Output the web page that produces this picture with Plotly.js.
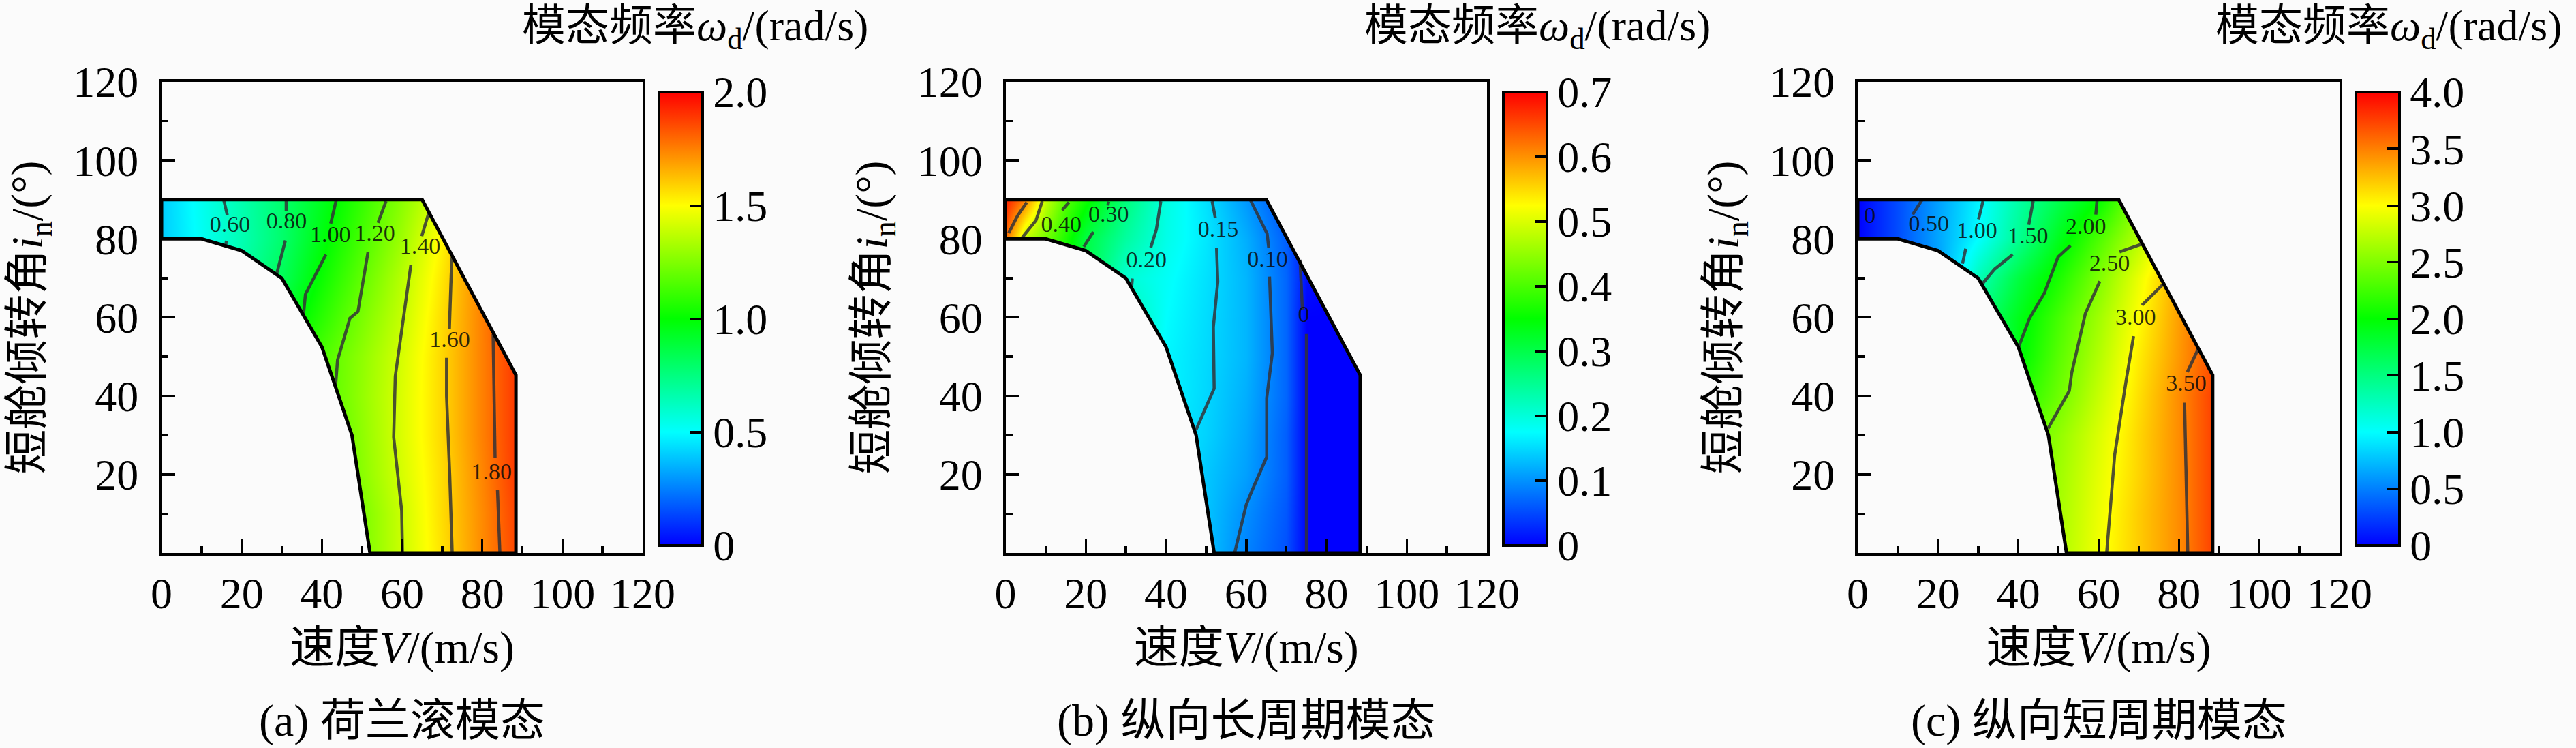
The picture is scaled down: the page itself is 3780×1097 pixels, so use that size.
<!DOCTYPE html>
<html><head><meta charset="utf-8">
<script src="https://cdn.plot.ly/plotly-3.0.1.min.js"></script>
<style>html,body{margin:0;padding:0;background:#fbfbfb}</style></head>
<body><div id="chart" style="width:3780px;height:1097px"></div>
<script>
// ---------- shared axes ----------
const speedTicks = [0,20,40,60,80,100,120];
const speedLabels = ['0','20','40','60','80','100','120'];
const tiltTicks = [20,40,60,80,100,120];
const tiltLabels = ['20','40','60','80','100','120'];
const tiltGrid = [0,10,20,30,40,50,60,70,80,90];
const speedGrid = [0,10,20,30,40,50,60,70,80,90];
const speedGridLong = [0,5,10,15,20,30,40,50,60,70,75,80,90];

// flight envelope boundary
const envelopeV = [0,10,20,30,40,47.5,52,88.4,88.4,65,0,0];
const envelopeI = [80,80,77,70,52.5,30,0,0,45.3,90,90,80];
const lowerMaskV = [0,52,47.5,40,30,20,10,0,0];
const lowerMaskI = [0,0,30,52.5,70,77,80,80,0];
const upperMaskV = [0,65,88.4,88.4,120,120,0,0];
const upperMaskI = [90,90,45.3,0,0,120,120,90];

// ---------- (a) Dutch roll ----------
const rollOmega = [
 [0.40,0.50,0.60,0.75,1.06,1.24,1.40,1.56,1.73,1.89],
 [0.40,0.50,0.60,0.75,1.07,1.24,1.40,1.57,1.73,1.90],
 [0.40,0.50,0.62,0.80,1.10,1.27,1.42,1.57,1.74,1.92],
 [0.40,0.50,0.65,0.85,1.13,1.28,1.43,1.58,1.75,1.92],
 [0.40,0.50,0.70,1.02,1.15,1.29,1.43,1.58,1.75,1.92],
 [0.40,0.50,0.72,1.01,1.15,1.28,1.42,1.58,1.75,1.92],
 [0.40,0.52,0.74,0.91,1.08,1.24,1.39,1.57,1.75,1.93],
 [0.40,0.52,0.68,0.83,1.02,1.19,1.36,1.55,1.75,1.95],
 [0.40,0.52,0.65,0.79,0.97,1.14,1.31,1.52,1.74,1.95],
 [0.40,0.53,0.66,0.79,0.94,1.10,1.27,1.45,1.70,1.95]];
const rollLevels = ['0.60','0.80','1.00','1.20','1.40','1.60','1.80'];
const rollLineV = [
 [15.5,16.4,null,16.2,16],
 [31.1,31.1,null,30.9,28.8],
 [43.6,42.2,null,41,39,35.9,35.4],
 [56,54,null,51.5,50.1,49,47,43.9,43.4],
 [66.7,64.9,null,62.2,60.1,58.3,57.9,59.9,60.1],
 [72.4,71.8,null,71.1,71.1,71.9,72.5],
 [82.7,83.2,null,83.8,84.4]];
const rollLineI = [
 [90,86.1,null,79.5,78.3],
 [90,87,null,79.6,71.4],
 [90,83.9,null,76,72,65.9,60.7],
 [89.6,84.1,null,76.6,67.9,61.5,59.8,49.1,42.4],
 [86.8,80.7,null,73.4,58.2,45,29.5,10.8,0],
 [75.3,57,null,49.7,40,19.5,0],
 [55.8,24.3,null,16,0]];
const rollLabelV = [17.1,31.2,42.1,53.2,64.5,71.9,82.3];
const rollLabelI = [83.2,84.1,80.7,81.1,77.7,53.9,20.3];

// ---------- (b) phugoid ----------
const phugoidOmega = [
 [0.60,0.48,0.40,0.35,0.30,0.24,0.19,0.135,0.09,0.055,0,0,0],
 [0.60,0.48,0.40,0.35,0.30,0.24,0.19,0.135,0.098,0.06,0,0,0],
 [0.60,0.48,0.40,0.35,0.30,0.24,0.19,0.137,0.11,0.065,0,0,0],
 [0.60,0.48,0.40,0.35,0.30,0.24,0.165,0.145,0.115,0.065,0,0,0],
 [0.60,0.48,0.40,0.35,0.30,0.24,0.17,0.148,0.12,0.07,0,0,0],
 [0.60,0.48,0.40,0.35,0.30,0.24,0.17,0.15,0.125,0.07,0,0,0],
 [0.60,0.48,0.40,0.35,0.30,0.23,0.175,0.152,0.125,0.07,0,0,0],
 [0.60,0.48,0.40,0.35,0.30,0.205,0.18,0.155,0.125,0.07,0.01,0,0],
 [0.63,0.48,0.43,0.37,0.305,0.24,0.19,0.16,0.12,0.065,0.01,0,0],
 [0.68,0.61,0.485,0.41,0.36,0.265,0.195,0.155,0.105,0.05,0.01,0,0]];
const phugoidLevels = ['0.60','0.50','0.40','0.30','0.20','0.15','0.10','0'];
const phugoidLineV = [
 [5.3,3,0.8],
 [9.15,7.6,4.2],
 [15.8,14.1],
 [25.7,25.5,null,21.9,19.5],
 [38.7,37.6,36.2,null,31.6,31.4],
 [51.5,52.3,null,52.6,52.9,51.8,52,52,47.5],
 [61.1,65.2,65.6,null,65.8,66.5,65.1,65.1,61.4,60,57.1],
 [73.4,74,null,75,75]];
const phugoidLineI = [
 [89.3,85.9,81.5],
 [89.6,84.7,80.4],
 [89.3,87.3],
 [89.5,88.5,null,81.8,78],
 [89.6,82.4,77.8,null,69.9,67.3],
 [89.6,85.3,null,77.8,69.1,57.5,47,41.9,31.4],
 [89.8,81.3,77.7,null,70.4,50.9,39.5,24.5,15.8,12.3,0],
 [74.7,61.9,null,55.8,0]];
const phugoidLabelText = ['0.40','0.30','0.20','0.15','0.10','0'];
const phugoidLabelV = [13.9,25.7,35.1,53,65.3,74.3];
const phugoidLabelI = [83.2,85.8,74.3,82.1,74.5,60.3];

// ---------- (c) short period ----------
const shortOmega = [
 [0,0.30,0.65,1.00,2.30,2.68,2.95,3.20,3.45,3.80],
 [0,0.30,0.65,1.00,2.30,2.65,2.93,3.20,3.45,3.80],
 [0,0.30,0.65,1.00,2.30,2.62,2.90,3.17,3.45,3.80],
 [0,0.30,0.65,1.00,2.30,2.57,2.86,3.16,3.45,3.80],
 [0,0.30,0.65,1.00,2.10,2.43,2.78,3.12,3.45,3.80],
 [0,0.30,0.65,1.20,1.95,2.35,2.70,3.07,3.40,3.75],
 [0,0.30,0.65,1.50,1.90,2.27,2.63,3.00,3.38,3.78],
 [0,0.30,0.60,1.28,1.75,2.10,2.50,2.92,3.35,3.80],
 [0,0.30,0.65,1.00,1.43,1.89,2.30,2.72,3.20,3.75],
 [0,0.30,0.63,0.96,1.35,1.70,2.01,2.55,3.20,3.80]];
const shortLevels = ['0.50','1.00','1.50','2.00','2.50','3.00','3.50'];
const shortLineV = [
 [16,13.7],
 [31.2,30.1,null,26.9,26.1],
 [43.7,42.6,null,38.6,34.1,31],
 [59.6,59.3,null,53,49.9,46.5,42.8,40],
 [70.8,65.2,null,60.3,56.7,53.3,52.7,47.4],
 [76.2,70.8,null,68.7,67.5,66.9,64,62],
 [84.9,82.1,null,81.4,82.2]];
const shortLineI = [
 [89.9,86.2],
 [89.6,85,null,77.5,73.7],
 [89.6,83.6,null,76,72.3,68.5],
 [89.8,86.2,null,78.3,75.4,66.2,59.8,52.3],
 [78.7,76.7,null,69.2,61,45.9,41.3,31.7],
 [68.6,63.1,null,55.2,47,44.2,25,0],
 [52.2,46.1,null,38.3,0]];
const shortLabelText = ['0','0.50','1.00','1.50','2.00','2.50','3.00','3.50'];
const shortLabelV = [3,17.7,29.7,42.4,56.8,62.7,69.2,81.8];
const shortLabelI = [85.6,83.5,81.7,80.4,82.8,73.4,59.7,42.8];

// ---------- colour bars ----------
const rollBarTicks = [0,0.5,1,1.5,2];
const rollBarLabels = ['0','0.5','1.0','1.5','2.0'];
const phugoidBarTicks = [0,0.1,0.2,0.3,0.4,0.5,0.6,0.7];
const phugoidBarLabels = ['0','0.1','0.2','0.3','0.4','0.5','0.6','0.7'];
const shortBarTicks = [0,0.5,1,1.5,2,2.5,3,3.5,4];
const shortBarLabels = ['0','0.5','1.0','1.5','2.0','2.5','3.0','3.5','4.0'];

const W = 3780, H = 1097;
const FONT = '"Liberation Serif","Noto Sans CJK SC",serif';
const BG = '#fbfbfb';
const rainbow = [[0,'#0000ff'],[0.25,'#00ffff'],[0.5,'#00ff00'],[0.75,'#ffff00'],[1,'#ff0000']];
const LINE = 'rgba(50,50,55,0.85)';

const panels = [
 {x0:237, x1:943, bar:967, gx:speedGrid, z:rollOmega, zmax:2, bt:rollBarTicks, bl:rollBarLabels,
  levels:rollLevels, lv:rollLineV, li:rollLineI, lt:rollLevels, lx:rollLabelV, ly:rollLabelI,
  cap:'(a) 荷兰滚模态', titleX:764},
 {x0:1475.5, x1:2182, bar:2206, gx:speedGridLong, z:phugoidOmega, zmax:0.7, bt:phugoidBarTicks, bl:phugoidBarLabels,
  levels:phugoidLevels, lv:phugoidLineV, li:phugoidLineI, lt:phugoidLabelText, lx:phugoidLabelV, ly:phugoidLabelI,
  cap:'(b) 纵向长周期模态', titleX:2000},
 {x0:2726, x1:3433, bar:3457, gx:speedGrid, z:shortOmega, zmax:4, bt:shortBarTicks, bl:shortBarLabels,
  levels:shortLevels, lv:shortLineV, li:shortLineI, lt:shortLabelText, lx:shortLabelV, ly:shortLabelI,
  cap:'(c) 纵向短周期模态', titleX:3249}
];

const traces = [], annotations = [];
const layout = {
  width:W, height:H, margin:{l:0,r:0,t:0,b:0,pad:0}, paper_bgcolor:BG, plot_bgcolor:BG,
  showlegend:false, font:{family:FONT,size:62,color:'#000'}
};
panels.forEach((p,k)=>{
  const n = k===0?'':String(k+1), xa='x'+n, ya='y'+n;
  traces.push({type:'heatmap', x:p.gx, y:tiltGrid, z:p.z, xaxis:xa, yaxis:ya, zmin:0, zmax:p.zmax,
    zsmooth:'best', colorscale:rainbow, hoverinfo:'skip',
    colorbar:{x:p.bar/W, xanchor:'left', xpad:0, ypad:0, thickness:64, thicknessmode:'pixels',
      len:665, lenmode:'pixels', y:(H-800)/H, yanchor:'bottom', tickmode:'array', tickvals:p.bt, ticktext:p.bl,
      ticks:'inside', ticklen:20, tickwidth:3.5, tickcolor:'#000', outlinewidth:4, outlinecolor:'#000',
      tickfont:{family:FONT,size:64,color:'#000'}, bgcolor:'rgba(0,0,0,0)', borderwidth:0}});
  [[lowerMaskV,lowerMaskI],[upperMaskV,upperMaskI]].forEach(m=>traces.push({type:'scatter',mode:'none',x:m[0],y:m[1],
    xaxis:xa,yaxis:ya,fill:'toself',fillcolor:BG,hoverinfo:'skip'}));
  p.lv.forEach((v,j)=>traces.push({type:'scatter',mode:'lines',name:p.levels[j],x:v,y:p.li[j],xaxis:xa,yaxis:ya,
    connectgaps:false,line:{color:LINE,width:4.5,shape:'linear'},hoverinfo:'skip'}));
  traces.push({type:'scatter',mode:'lines',x:envelopeV,y:envelopeI,xaxis:xa,yaxis:ya,
    line:{color:'#000',width:5},hoverinfo:'skip'});
  traces.push({type:'scatter',mode:'text',x:p.lx,y:p.ly,text:p.lt,xaxis:xa,yaxis:ya,textposition:'middle center',
    textfont:{family:FONT,size:34,color:'rgba(10,10,10,0.85)'},hoverinfo:'skip'});
  const minor = {dtick:10,tick0:0,ticks:'inside',ticklen:10,tickwidth:3.5,tickcolor:'#000',showgrid:false};
  layout['xaxis'+n] = {domain:[p.x0/W,p.x1/W], range:[0,120], anchor:ya, tickmode:'array', tickvals:speedTicks, ticktext:speedLabels,
    ticks:'inside', ticklen:20, tickwidth:3.5, tickcolor:'#000', showgrid:false, zeroline:false, showline:true, mirror:true,
    linecolor:'#000', linewidth:4, minor, ticklabelstandoff:0, tickfont:{family:FONT,size:64,color:'#000'},
    title:{text:'速度<i>V</i>/(m/s)',font:{family:FONT,size:66,color:'#000'},standoff:22}, automargin:false};
  layout['yaxis'+n] = {domain:[(H-811)/H,(H-120)/H], range:[0,120], anchor:xa, tickmode:'array', tickvals:tiltTicks, ticktext:tiltLabels,
    ticks:'inside', ticklen:20, tickwidth:3.5, tickcolor:'#000', showgrid:false, zeroline:false, showline:true, mirror:true,
    linecolor:'#000', linewidth:4, minor, ticklabelstandoff:17, tickfont:{family:FONT,size:64,color:'#000'},
    title:{text:'短舱倾转角<i>i</i><sub>n</sub>/(°)',font:{family:FONT,size:66,color:'#000'},standoff:24}, automargin:false};
  annotations.push({xref:'paper',yref:'paper',x:p.titleX/W,y:(H-42)/H,xanchor:'left',yanchor:'middle',showarrow:false,
    text:'模态频率<i>ω</i><sub>d</sub>/(rad/s)',font:{family:FONT,size:64,color:'#000'}});
  annotations.push({xref:'paper',yref:'paper',x:(p.x0+p.x1)/2/W,y:(H-1057)/H,xanchor:'center',yanchor:'middle',showarrow:false,
    text:p.cap,font:{family:FONT,size:66,color:'#000'}});
});
layout.annotations = annotations;
Plotly.newPlot('chart',traces,layout,{displayModeBar:false,staticPlot:true});
</script></body></html>
